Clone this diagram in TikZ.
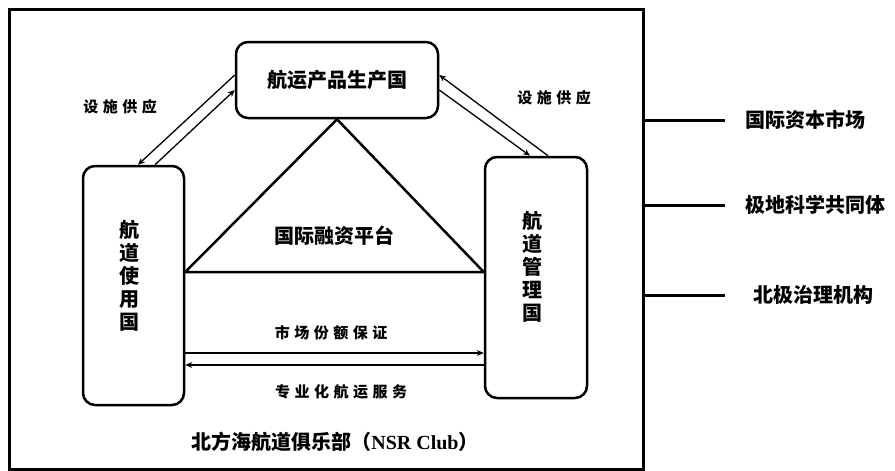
\documentclass[tikz,border=0pt]{standalone}
\usepackage{fontspec}
\setmainfont{Noto Sans CJK SC}
\newfontfamily\arrowfont[LetterSpace=30]{Noto Sans CJK SC}
\newfontfamily\latinfont{Liberation Serif}
\usetikzlibrary{arrows.meta}

\tikzset{
  country/.style={draw,line width=2.5pt,rounded corners=12pt,inner sep=0pt},
  bigtext/.style={font=\fontsize{20}{23}\selectfont\bfseries},
  smalltext/.style={font=\fontsize{15}{18}\selectfont\arrowfont\bfseries},
  link/.style={line width=1.3pt},
  side/.style={line width=3pt},
}

\begin{document}
\begin{tikzpicture}[x=1pt,y=-1pt,>={Stealth[length=7pt,width=6pt]}]
\useasboundingbox (0,0) rectangle (895,471);
\path
    (326,239) node [draw,line width=3pt,minimum width=634pt,minimum height=460pt] (club) {}
    (337,80) node [country,minimum width=202pt,minimum height=76pt,bigtext] (prod) {航运产品生产国}
    (133.5,285.5) node [country,minimum width=101pt,minimum height=239pt] (user) {}
    +(-4,-10) node [bigtext,align=center] (usertext) {航\\道\\使\\用\\国}
    (536,277.5) node [country,minimum width=102pt,minimum height=241pt] (mgr) {}
    +(-4,-11) node [bigtext,align=center] (mgrtext) {航\\道\\管\\理\\国};

% financing platform
\coordinate (base) at (0,272);
\draw [line width=2.5pt,line join=round] (prod.south) -- (user.east |- base) -- (mgr.west |- base) -- cycle;
\node [bigtext] (fin) at (334,236) {国际融资平台};

% facility supply
\draw [link,->] ([yshift=5pt]prod.west) -- ([xshift=4.5pt]user.north);
\draw [link,->] ([xshift=21.5pt]user.north) -- ([yshift=-10pt]prod.west);
\draw [link,->] ([xshift=12pt]mgr.north) -- ([yshift=5pt]prod.east);
\draw [link,->] ([yshift=-10pt]prod.east) -- ([xshift=-6pt]mgr.north);
\node [smalltext] (supplyL) at (120,107) {设施供应};
\node [smalltext] (supplyR) at (554,98) {设施供应};

% market share / shipping service
\coordinate (mk) at (0,353);
\coordinate (sv) at (0,365);
\draw [link,->] (user.east |- mk) -- (mgr.west |- mk);
\draw [link,<-] (user.east |- sv) -- (mgr.west |- sv);
\node [smalltext] (market) at (331,333) {市场份额保证};
\node [smalltext] (service) at (341,392) {专业化航运服务};

\node [bigtext] (clubname) at (335,442) {北方海航道俱乐部（{\latinfont NSR Club}）};

% outside actors
\node [bigtext,anchor=west] (capital) at (742,120) {国际资本市场};
\node [bigtext,anchor=west] (science) at (742,205) {极地科学共同体};
\node [bigtext,anchor=west] (governance) at (750,295) {北极治理机构};
\draw [side] (club.east |- capital) -- +(80,0);
\draw [side] (club.east |- science) -- +(80,0);
\draw [side] (club.east |- governance) -- +(80,0);
\end{tikzpicture}
\end{document}
